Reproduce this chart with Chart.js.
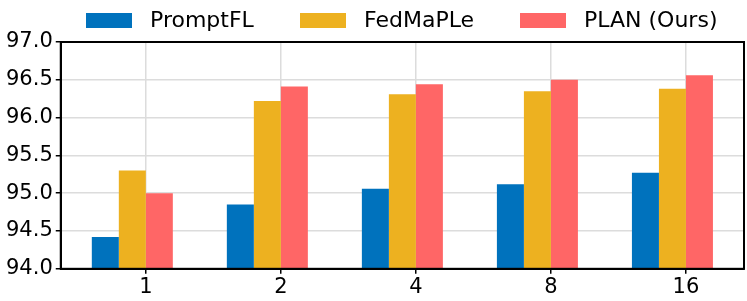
<!DOCTYPE html>
<html>
<head>
<meta charset="utf-8">
<script src="https://cdn.jsdelivr.net/npm/chart.js@4/dist/chart.umd.min.js"></script>
<style>
  html, body { margin: 0; padding: 0; background: #fff; }
  #wrap { position: relative; width: 747px; height: 301px; }
  #legend { position: absolute; left: 0; top: 0; width: 747px; height: 40px;
            font-family: 'DejaVu Sans'; font-size: 22px; color: #000; }
  .item { position: absolute; top: 13px; height: 15px; }
  .box { position: absolute; left: 0; top: 0; width: 46px; height: 15px; }
  .txt { position: absolute; left: 64px; top: -6px; line-height: 26px; white-space: nowrap; }
</style>
</head>
<body>
<div id="wrap">
  <canvas id="chart"></canvas>
  <div id="legend"></div>
</div>
<script>
// data
const categories = ['1', '2', '4', '8', '16'];
const promptFL = [94.42, 94.85, 95.06, 95.12, 95.27];
const fedMaPLe = [95.30, 96.22, 96.31, 96.35, 96.38];
const planOurs = [95.00, 96.41, 96.44, 96.50, 96.56];
const yTicks = [94.0, 94.5, 95.0, 95.5, 96.0, 96.5, 97.0];

const seriesNames = ['PromptFL', 'FedMaPLe', 'PLAN (Ours)'];
const seriesColors = ['#0072BD', '#EDB120', '#FF6666'];
const legendLeft = [86, 300, 520];

const toPoints = vals => vals.map((v, i) => ({ x: i, y: v }));

// frame around the plot area (matplotlib style box)
const frame = {
    id: 'frame',
    afterDraw(chart) {
        const { ctx, chartArea: a } = chart;
        ctx.save();
        ctx.strokeStyle = '#000';
        ctx.lineWidth = 2;
        ctx.strokeRect(a.left, a.top, a.right - a.left, a.bottom - a.top);
        ctx.restore();
    }
};

Chart.defaults.font.family = 'DejaVu Sans';
Chart.defaults.font.size = 21;
Chart.defaults.color = '#000';

const seriesData = [promptFL, fedMaPLe, planOurs];
const datasets = seriesData.map((vals, k) => ({
    label: seriesNames[k],
    data: toPoints(vals),
    backgroundColor: seriesColors[k]
}));
// empty slot so each group sits left of its tick like the original
datasets.push({ label: '', data: toPoints(categories.map(() => null)), backgroundColor: 'rgba(0,0,0,0)' });

const chart = new Chart(document.getElementById('chart'), {
    type: 'bar',
    data: { datasets },
    options: {
        responsive: true,
        maintainAspectRatio: false,
        animation: false,
        layout: { padding: { left: 3, right: 3, top: 42, bottom: 0 } },
        datasets: {
            bar: { categoryPercentage: 0.8, barPercentage: 1.0, borderWidth: 0 }
        },
        plugins: {
            legend: { display: false },
            tooltip: { enabled: false }
        },
        scales: {
            x: {
                type: 'linear',
                offset: false,
                min: -0.63,
                max: 4.43,
                afterBuildTicks: axis => {
                    axis.ticks = categories.map((_, i) => ({ value: i }));
                },
                ticks: {
                    callback: v => categories[v],
                    padding: 1,
                    autoSkip: false,
                    maxRotation: 0
                },
                grid: { offset: false, color: '#dcdcdc', lineWidth: 1.5, tickColor: '#000', tickLength: 5 },
                border: { color: '#000', width: 2 }
            },
            y: {
                min: 94,
                max: 97,
                afterBuildTicks: axis => {
                    axis.ticks = yTicks.map(v => ({ value: v }));
                },
                ticks: {
                    callback: v => v.toFixed(1),
                    padding: 3,
                    autoSkip: false
                },
                grid: { color: '#dcdcdc', lineWidth: 1.5, tickColor: '#000', tickLength: 5 },
                border: { color: '#000', width: 2 }
            }
        }
    },
    plugins: [frame]
});

// legend as html, built from the chart's datasets
const legendEl = document.getElementById('legend');
chart.data.datasets.slice(0, 3).forEach((ds, k) => {
    const item = document.createElement('div');
    item.className = 'item';
    item.style.left = legendLeft[k] + 'px';
    item.innerHTML = '<span class="box" style="background:' + ds.backgroundColor + '"></span>' +
                     '<span class="txt">' + ds.label + '</span>';
    legendEl.appendChild(item);
});
</script>
</body>
</html>
